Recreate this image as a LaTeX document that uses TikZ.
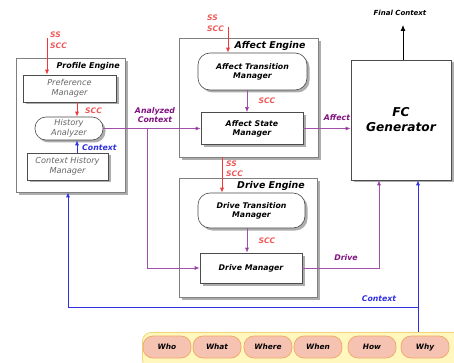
\documentclass[tikz,border=0pt]{standalone}
\usepackage{fontspec}
\setmainfont{DejaVu Sans}
\usetikzlibrary{arrows.meta,shadows}
\definecolor{myred}{HTML}{F03838}
\definecolor{redtxt}{HTML}{F05858}
\definecolor{mypurple}{HTML}{A050A8}
\definecolor{purptxt}{HTML}{801080}
\definecolor{myblue}{HTML}{3030E0}
\definecolor{barfill}{HTML}{FFF7BE}
\definecolor{bardraw}{HTML}{F2D67A}
\definecolor{itemfill}{HTML}{F6C2B2}
\definecolor{itemdraw}{HTML}{EFA864}
\begin{document}
\begin{tikzpicture}[x=1pt,y=-1pt,
  font=\fontsize{7.8}{9}\selectfont\bfseries\itshape,
  engine/.style={draw=gray, fill=white, line width=0.7pt, inner sep=0pt,
    drop shadow={shadow xshift=3pt, shadow yshift=-3pt, fill=black!32, opacity=1}},
  inbox/.style={draw=black!70, fill=white, line width=0.6pt, inner sep=0pt, align=center,
    drop shadow={shadow xshift=2.5pt, shadow yshift=-2.5pt, fill=black!32, opacity=1}},
  rbox/.style={inbox, rounded corners=10pt},
  pebox/.style={text=black!60, font=\fontsize{8.2}{9.6}\selectfont\itshape},
  etitle/.style={font=\fontsize{9.4}{11}\selectfont\bfseries\itshape},
  redarr/.style={draw=myred, line width=0.8pt, -{Latex[length=5pt,width=4pt]}},
  purarr/.style={draw=mypurple, line width=0.7pt, -{Latex[length=5pt,width=4pt,fill=purptxt]}},
  bluearr/.style={draw=myblue, line width=0.8pt, -{Latex[length=5pt,width=4pt]}},
  redlbl/.style={text=redtxt, inner sep=0pt, font=\fontsize{7.6}{9}\selectfont\bfseries\itshape},
  purlbl/.style={text=purptxt, inner sep=0pt, align=center, font=\fontsize{7.8}{9.6}\selectfont\bfseries\itshape},
  bluelbl/.style={text=myblue, inner sep=0pt, font=\fontsize{7.8}{9}\selectfont\bfseries\itshape},
  item/.style={draw=itemdraw, fill=itemfill, rounded corners=10pt, line width=0.7pt,
    minimum width=48pt, minimum height=22pt, inner sep=0pt, font=\fontsize{7.4}{9}\selectfont\bfseries\itshape}
]
\useasboundingbox (0,0) rectangle (454,363);

% Profile engine
\node[engine, minimum width=109pt, minimum height=134pt] (PE) at (70.5,125) {};
\node[font=\fontsize{8}{9}\selectfont\bfseries\itshape, anchor=east, inner sep=0pt] (PEt) at (120,66) {Profile Engine};
\node[inbox, pebox, minimum width=93pt, minimum height=27pt] (PM) at (69.5,88.5) {Preference\\Manager};
\node[rbox, pebox, minimum width=68pt, minimum height=23pt, rounded corners=11pt] (HA) at (69,128.5) {History\\Analyzer};
\node[inbox, pebox, minimum width=81pt, minimum height=27pt] (CHM) at (67.5,166.5) {Context History\\Manager};

% Affect engine
\node[engine, minimum width=139pt, minimum height=119pt] (AE) at (248.5,97.5) {};
\node[etitle, inner sep=0pt] (AEt) at (270,46) {Affect Engine};
\node[rbox, minimum width=109pt, minimum height=37pt, rounded corners=12pt] (ATM) at (252.5,71.5) {Affect Transition\\Manager};
\node[inbox, minimum width=102pt, minimum height=32pt] (ASM) at (252,128.5) {Affect State\\Manager};

% Drive engine
\node[engine, minimum width=138pt, minimum height=119pt] (DE) at (248,237.5) {};
\node[etitle, inner sep=0pt] (DEt) at (271,186) {Drive Engine};
\node[rbox, minimum width=107pt, minimum height=35pt, rounded corners=12pt] (DTM) at (251.5,210.5) {Drive Transition\\Manager};
\node[inbox, minimum width=102pt, minimum height=30pt] (DM) at (251,268) {Drive Manager};

% FC generator
\node[inbox, minimum width=100pt, minimum height=120pt, font=\fontsize{12.2}{15}\selectfont\bfseries\itshape] (FC) at (401,120) {FC\\Generator};

% bottom bar
\node[draw=bardraw, fill=barfill, line width=0.8pt, rounded corners=9pt, minimum width=320pt, minimum height=36pt, anchor=north west] (bar) at (142,332) {};
\node[item] (who) at (167,347) {Who};
\node[item] (what) at (217,347) {What};
\node[item] (where) at (268,347) {Where};
\node[item] (when) at (318,347) {When};
\node[item] (how) at (372,347) {How};
\node[item] (why) at (425,347) {Why};

% coordinates
\coordinate (ss1) at (47,38);
\coordinate (ss2) at (228,27);
\coordinate (ss3) at (222,157);
\coordinate (acj) at (147,128.5);
\coordinate (drj) at (379,268);
\coordinate (fctop) at (403,25);
\coordinate (ctxb) at (418,332);
\coordinate (ctxj) at (418,307);
\coordinate (ctxl) at (68,307);

% Profile arrows
\draw[redarr] (ss1) -- (ss1 |- PM.north);
\node[redlbl, anchor=west] at (50,35) {SS};
\node[redlbl, anchor=west] at (50,46) {SCC};
\draw[redarr] (PM.south -| 77,0) -- (HA.north -| 77,0);
\node[redlbl, anchor=west] at (85,111) {SCC};
\draw[bluearr] (CHM.north -| 77,0) -- (HA.south -| 77,0);
\node[bluelbl, anchor=west] at (82,148) {Context};

% analyzed context
\draw[purarr] (HA.east) -- (ASM.west);
\draw[purarr] (acj) |- (DM.west);
\node[purlbl] at (155,115) {Analyzed\\Context};

% affect arrows
\draw[redarr] (ss2) -- (ss2 |- ATM.north);
\node[redlbl, anchor=west] at (207,18) {SS};
\node[redlbl, anchor=west] at (207,29) {SCC};
\draw[purarr] (ATM.south -| 247,0) -- (ASM.north -| 247,0);
\node[redlbl] at (267,101) {SCC};
\draw[purarr] (ASM.east) -- (ASM.east -| FC.west);
\node[purlbl] at (337,118) {Affect};

% drive arrows
\draw[redarr] (ss3) -- (ss3 |- DTM.north);
\node[redlbl, anchor=west] at (226,164) {SS};
\node[redlbl, anchor=west] at (226,174) {SCC};
\draw[purarr] (DTM.south -| 247,0) -- (DM.north -| 247,0);
\node[redlbl] at (267,241) {SCC};
\draw[purarr] (DM.east) -| (FC.south -| drj);
\node[purlbl] at (346,258) {Drive};

% final context
\draw[draw=black, line width=0.8pt, -{Latex[length=6pt,width=5pt]}] (FC.north -| fctop) -- (fctop);
\node[font=\fontsize{7}{8}\selectfont\bfseries\itshape, inner sep=0pt] at (400,13) {Final Context};

% context feedback
\draw[bluearr] (ctxb) -- (FC.south -| ctxb);
\draw[bluearr] (ctxj) -- (ctxl) -- (PE.south -| ctxl);
\node[bluelbl] at (379,299) {Context};
\end{tikzpicture}
\end{document}
